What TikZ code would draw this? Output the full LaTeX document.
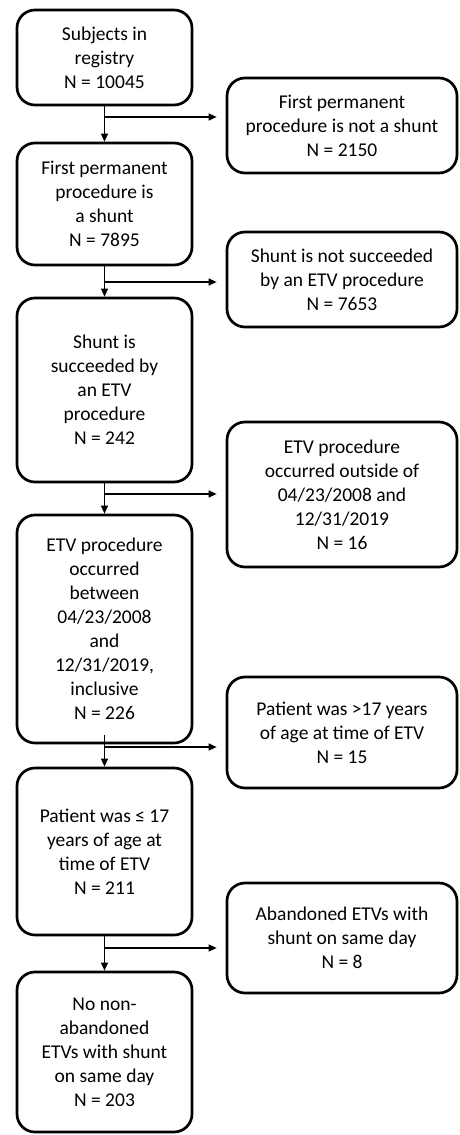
\documentclass[tikz,border=0pt]{standalone}
\usepackage{fontspec}
\setmainfont{Carlito}
\usetikzlibrary{arrows.meta}
\tikzset{
  box/.style={draw, line width=2.7pt, rounded corners=18pt, align=center,
    font=\fontsize{19.5}{24}\selectfont, inner sep=2pt},
  lbox/.style={box, minimum width=175pt},
  rbox/.style={box, minimum width=230pt},
  arr/.style={line width=1.2pt, -{Triangle[length=8pt,width=7pt]}},
}
\begin{document}
\begin{tikzpicture}[x=1pt,y=-1pt]
\useasboundingbox (0,0) rectangle (460,1135);
% left column
\node[lbox, minimum height=95pt]  (L1) at (104.5,57.5) {Subjects in\\registry\\N = 10045};
\node[lbox, minimum height=122pt] (L2) at (104.5,204) {First permanent\\procedure is\\a shunt\\N = 7895};
\node[lbox, minimum height=184pt] (L3) at (104.5,390) {Shunt is\\succeeded by\\an ETV\\procedure\\N = 242};
\node[lbox, minimum height=228pt] (L4) at (104.5,629) {ETV procedure\\occurred\\between\\04/23/2008\\and\\12/31/2019,\\inclusive\\N = 226};
\node[lbox, minimum height=167pt] (L5) at (104.5,851.5) {Patient was ≤ 17\\years of age at\\time of ETV\\N = 211};
\node[lbox, minimum height=160pt] (L6) at (104.5,1052) {No non-\\abandoned\\ETVs with shunt\\on same day\\N = 203};
% right column
\node[rbox, minimum height=95pt]  (R1) at (342,125.5) {First permanent\\procedure is not a shunt\\N = 2150};
\node[rbox, minimum height=95pt]  (R2) at (342,279.5) {Shunt is not succeeded\\by an ETV procedure\\N = 7653};
\node[rbox, minimum height=145pt] (R3) at (342,494.5) {ETV procedure\\occurred outside of\\04/23/2008 and\\12/31/2019\\N = 16};
\node[rbox, minimum height=111pt] (R4) at (342,732.5) {Patient was >17 years\\of age at time of ETV\\N = 15};
\node[rbox, minimum height=110pt] (R5) at (342,938) {Abandoned ETVs with\\shunt on same day\\N = 8};
% branch points
\coordinate (b1) at (104.5,117);
\coordinate (b2) at (104.5,282);
\coordinate (b3) at (104.5,494);
\coordinate (b4) at (104.5,747);
\coordinate (b5) at (104.5,948);
\coordinate (s4) at (104.5,735);
% vertical connectors
\draw[arr] (L1.south) -- (L2.north);
\draw[arr] (L2.south) -- (L3.north);
\draw[arr] (L3.south) -- (L4.north);
\draw[arr] (s4) -- (L5.north);
\draw[arr] (L5.south) -- (L6.north);
% horizontal connectors
\draw[arr, shorten >=9pt] (b1) -- (b1 -| R1.west);
\draw[arr, shorten >=9pt] (b2) -- (b2 -| R2.west);
\draw[arr, shorten >=9pt] (b3) -- (b3 -| R3.west);
\draw[arr, shorten >=9pt] (b4) -- (b4 -| R4.west);
\draw[arr, shorten >=9pt] (b5) -- (b5 -| R5.west);
\end{tikzpicture}
\end{document}
